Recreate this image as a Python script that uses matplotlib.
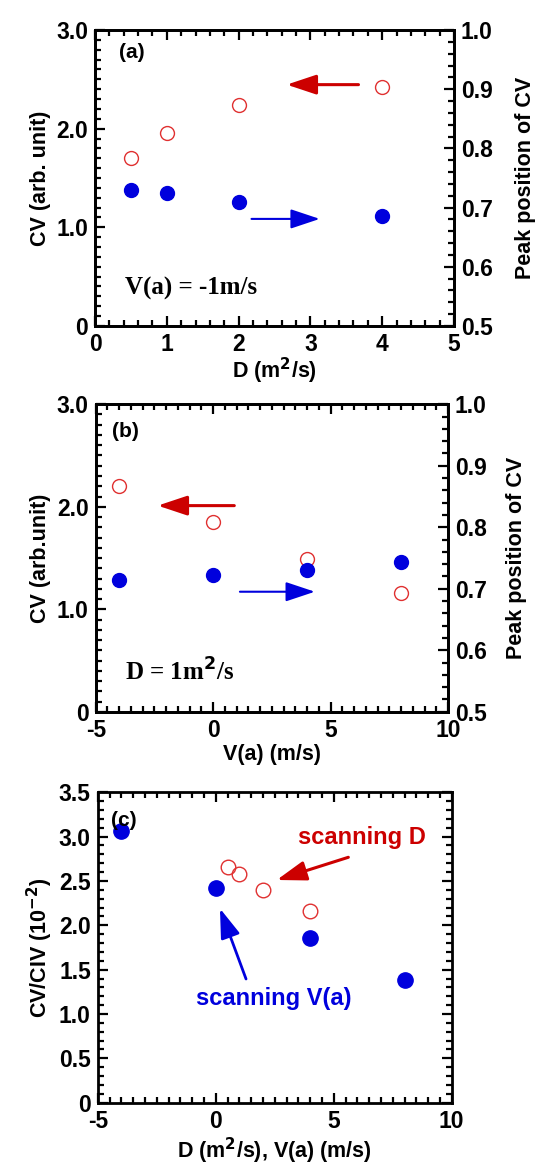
import matplotlib
matplotlib.use("Agg")
import matplotlib.pyplot as plt
from matplotlib.ticker import MultipleLocator

# panel (a): scanning D at V(a) = -1 m/s
a_D = [0.5, 1, 2, 4]
a_cv = [1.70, 1.955, 2.24, 2.42]
a_peak = [0.730, 0.724, 0.709, 0.685]

# panel (b): scanning V(a) at D = 1 m2/s
b_V = [-4, 0, 4, 8]
b_cv = [2.20, 1.855, 1.49, 1.16]
b_peak = [0.715, 0.723, 0.730, 0.744]

# panel (c): CV/CIV ratio
c_V = [-4, 0, 4, 8]
c_ratio_V = [3.06, 2.42, 1.86, 1.38]
c_D = [0.5, 1, 2, 4]
c_ratio_D = [2.66, 2.58, 2.40, 2.16]

BLUE = "#0000DD"
RED = "#CC0000"
ORED = "#E03030"

plt.rcParams["font.family"] = ["Liberation Sans", "DejaVu Sans"]
plt.rcParams["font.weight"] = "bold"
plt.rcParams["axes.labelweight"] = "bold"
plt.rcParams["axes.linewidth"] = 2.0

FS = 16.5   # tick labels
LFS = 15.5  # axis labels

fig = plt.figure(figsize=(5.42, 11.67), dpi=100)


def style(ax, xmaj, xmin, ymaj, ymin, right=True):
    ax.xaxis.set_major_locator(MultipleLocator(xmaj))
    ax.xaxis.set_minor_locator(MultipleLocator(xmin))
    ax.yaxis.set_major_locator(MultipleLocator(ymaj))
    ax.yaxis.set_minor_locator(MultipleLocator(ymin))
    ax.tick_params(which="both", direction="in", top=True, right=right,
                   labelsize=FS, width=1.6, pad=5)
    ax.tick_params(which="major", length=7)
    ax.tick_params(which="minor", length=4)


def right_axis(ax):
    axr = ax.twinx()
    axr.set_ylim(0.5, 1.0)
    axr.yaxis.set_major_locator(MultipleLocator(0.1))
    axr.yaxis.set_minor_locator(MultipleLocator(0.02))
    axr.tick_params(which="both", direction="in", labelsize=FS, width=1.6, pad=5)
    axr.tick_params(which="major", length=7)
    axr.tick_params(which="minor", length=4)
    axr.yaxis.set_major_formatter(fmt_y)
    return axr


def fmt_y(v, pos):
    return "0" if abs(v) < 1e-9 else "%.1f" % v


def fmt_x(v, pos):
    return "%d" % round(v)


def arrow(ax, start, end, color, lw):
    ax.annotate("", xy=end, xytext=start,
                arrowprops=dict(arrowstyle="-|>,head_length=0.9,head_width=0.3",
                                mutation_scale=20, color=color, lw=lw,
                                shrinkA=0, shrinkB=0))


# ---------- (a) ----------
ax1 = fig.add_axes([0.1753, 0.7207, 0.8376 - 0.1753, 0.9743 - 0.7207])
ax1.set_xlim(0, 5)
ax1.set_ylim(0, 3.0)
style(ax1, 1, 0.2, 1.0, 0.1, right=False)
ax1.yaxis.set_major_formatter(fmt_y)
ax1.xaxis.set_major_formatter(fmt_x)
ax1.plot(a_D, a_cv, "o", ms=10, mfc="none", mec=ORED, mew=1.0)
ax1.set_xlabel("D (m$^\\mathbf{2}$/s)", fontsize=LFS, labelpad=0)
ax1.set_ylabel("CV (arb. unit)", fontsize=LFS, labelpad=4)
ax1.text(0.33, 2.72, "(a)", fontsize=15, fontweight="bold")
ax1.text(0.42, 0.32, "V(a) = -1m/s", fontsize=18, fontweight="bold",
         family=["Liberation Serif", "DejaVu Serif"])
arrow(ax1, (3.67, 2.446), (2.67, 2.446), RED, 2.2)
arrow(ax1, (2.18, 1.085), (3.13, 1.085), BLUE, 1.5)

ax1r = right_axis(ax1)
ax1r.plot(a_D, a_peak, "o", ms=10, color=BLUE, mec=BLUE)
ax1r.set_ylabel("Peak position of CV", fontsize=LFS, labelpad=16)

# ---------- (b) ----------
ax2 = fig.add_axes([0.1766, 0.3901, 0.8266 - 0.1766, 0.6536 - 0.3901])
ax2.set_xlim(-5, 10)
ax2.set_ylim(0, 3.0)
style(ax2, 5, 0.5, 1.0, 0.1, right=False)
ax2.yaxis.set_major_formatter(fmt_y)
ax2.xaxis.set_major_formatter(fmt_x)
ax2.plot(b_V, b_cv, "o", ms=10, mfc="none", mec=ORED, mew=1.0)
ax2.set_xlabel("V(a) (m/s)", fontsize=LFS, labelpad=2)
ax2.set_ylabel("CV (arb.unit)", fontsize=LFS, labelpad=4)
ax2.text(-4.3, 2.68, "(b)", fontsize=15, fontweight="bold")
ax2.text(-3.75, 0.3, "D = 1m$^2$/s", fontsize=18, fontweight="bold",
         family=["Liberation Serif", "DejaVu Serif"])
arrow(ax2, (0.90, 2.011), (-2.36, 2.011), RED, 2.2)
arrow(ax2, (1.14, 1.171), (4.33, 1.171), BLUE, 1.5)

ax2r = right_axis(ax2)
ax2r.plot(b_V, b_peak, "o", ms=10, color=BLUE, mec=BLUE)
ax2r.set_ylabel("Peak position of CV", fontsize=LFS, labelpad=14)

# ---------- (c) ----------
ax3 = fig.add_axes([0.1803, 0.0551, 0.8334 - 0.1803, 0.3211 - 0.0551])
ax3.set_xlim(-5, 10)
ax3.set_ylim(0, 3.5)
style(ax3, 5, 0.5, 0.5, 0.1)
ax3.yaxis.set_major_formatter(fmt_y)
ax3.xaxis.set_major_formatter(fmt_x)
ax3.plot(c_V, c_ratio_V, "o", ms=11, color=BLUE, mec=BLUE)
ax3.plot(c_D, c_ratio_D, "o", ms=10.5, mfc="none", mec=ORED, mew=1.0)
ax3.set_xlabel("D (m$^\\mathbf{2}$/s), V(a) (m/s)", fontsize=LFS, labelpad=2)
ax3.set_ylabel("CV/CIV (10$^\\mathbf{-2}$)", fontsize=LFS, labelpad=3)
ax3.text(-4.45, 3.12, "(c)", fontsize=15, fontweight="bold")
ax3.text(6.19, 2.99, "scanning D", fontsize=17, fontweight="bold",
         color=RED, ha="center", va="center")
ax3.text(2.44, 1.18, "scanning V(a)", fontsize=17, fontweight="bold",
         color=BLUE, ha="center", va="center")
arrow(ax3, (5.62, 2.767), (2.585, 2.511), RED, 2.2)
arrow(ax3, (1.285, 1.395), (0.18, 2.19), BLUE, 2.0)

fig.savefig("out.png", dpi=100)
